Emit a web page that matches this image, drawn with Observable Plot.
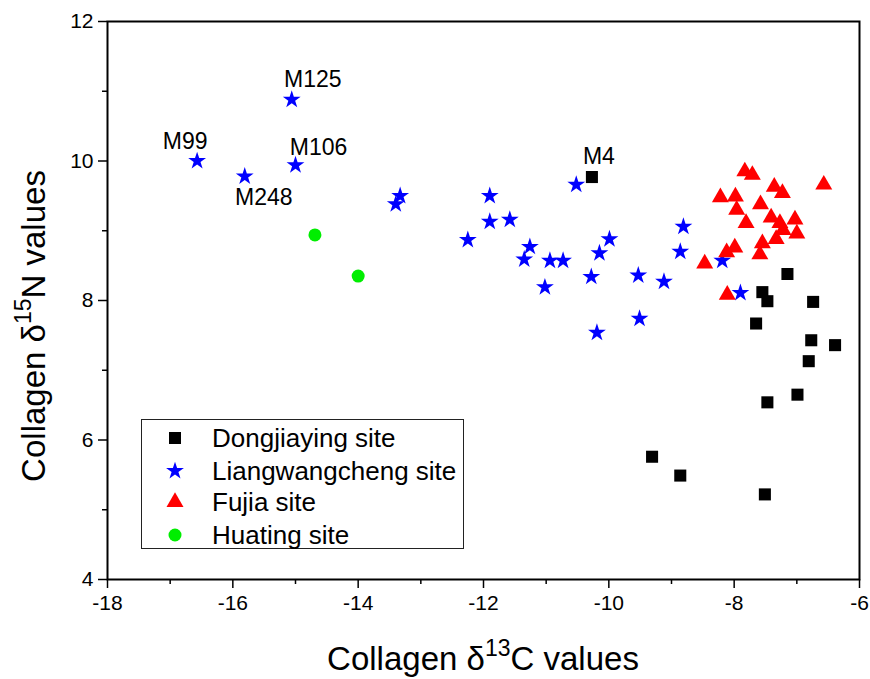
<!DOCTYPE html>
<html><head><meta charset="utf-8">
<script src="https://cdn.jsdelivr.net/npm/d3@7"></script>
<script src="https://cdn.jsdelivr.net/npm/@observablehq/plot@0.6"></script>
<style>
body{margin:0;background:#fff;font-family:"Liberation Sans",Arial,sans-serif;}
#wrap{position:relative;width:870px;height:679px;}
#legend{position:absolute;left:141px;top:419px;width:321px;height:128px;border:1px solid #222;background:#fff;}
.row{position:absolute;left:0;height:30px;display:flex;align-items:center;}
.row svg{position:absolute;left:20px;}
.row span{position:absolute;left:70px;font-size:26px;white-space:nowrap;line-height:30px;}
</style></head><body>
<div id="wrap"></div>
<script>
// ---- data ----
const dongX = [-10.27, -7.15, -7.55, -7.47, -6.74, -7.65, -6.77, -6.39, -6.81, -6.99, -7.47, -9.31, -8.86, -7.51];
const dongY = [9.77, 8.38, 8.12, 7.99, 7.98, 7.67, 7.43, 7.36, 7.13, 6.65, 6.54, 5.76, 5.49, 5.22];

const liangX = [-15.06, -16.57, -15.81, -15.00, -13.33, -13.40, -12.25, -11.90, -11.90, -11.58, -11.26, -11.35, -10.94, -10.73, -11.02, -10.52, -10.28, -10.15, -9.99, -10.19, -9.53, -9.51, -9.12, -8.86, -8.81, -8.19, -7.90];
const liangY = [10.88, 10.00, 9.78, 9.94, 9.50, 9.38, 8.87, 9.50, 9.13, 9.16, 8.77, 8.59, 8.57, 8.57, 8.19, 9.66, 8.34, 8.68, 8.88, 7.54, 8.36, 7.74, 8.27, 8.70, 9.06, 8.57, 8.11];

const fujiaX = [-7.83, -7.71, -6.57, -7.36, -7.23, -8.22, -7.98, -7.58, -7.96, -7.41, -7.03, -7.27, -7.81, -7.22, -7.00, -7.33, -7.55, -7.99, -8.12, -7.59, -8.47, -8.11];
const fujiaY = [9.85, 9.80, 9.66, 9.63, 9.54, 9.48, 9.49, 9.38, 9.30, 9.19, 9.16, 9.11, 9.11, 9.01, 8.96, 8.88, 8.82, 8.76, 8.69, 8.66, 8.53, 8.08];

const huatingX = [-14.69, -14.00];
const huatingY = [8.94, 8.35];

const seriesNames = ["Dongjiaying site", "Liangwangcheng site", "Fujia site", "Huating site"];

// labelled samples: [name, series index, point index]
const labelNames = ["M125", "M99", "M248", "M106", "M4"];
const labelSeries = [1, 1, 1, 1, 0];
const labelIndex = [0, 1, 2, 3, 0];

const xTicks = [-18, -16, -14, -12, -10, -8, -6];
const xMinor = [-17, -15, -13, -11, -9, -7];
const yTicks = [4, 6, 8, 10, 12];
const yMinor = [5, 7, 9, 11];

// ---- build ----
const seriesX = [dongX, liangX, fujiaX, huatingX];
const seriesY = [dongY, liangY, fujiaY, huatingY];
const styles = [
  {symbol: "square", fill: "#000000", r: 6.8},
  {symbol: "star", fill: "#0000ff", r: 5.6},
  {symbol: "triangle", fill: "#ff0000", r: 6.3},
  {symbol: "circle", fill: "#00ee00", r: 6.5}
];
const labelOffsets = {M125: [21, -20], M99: [-12, -19], M248: [19, 21], M106: [23, -18], M4: [7, -20]};

const tables = seriesNames.map((name, s) =>
  seriesX[s].map((x, i) => ({x, y: seriesY[s][i], site: name})));

const dotMarks = tables.map((t, s) => Plot.dot(t, {
  x: "x", y: "y", symbol: () => styles[s].symbol, fill: styles[s].fill, stroke: "none", r: styles[s].r
}));

const labelMarks = labelNames.map((n, k) => {
  const s = labelSeries[k], i = labelIndex[k];
  return Plot.text([{x: seriesX[s][i], y: seriesY[s][i], t: n}], {
    x: "x", y: "y", text: "t", dx: labelOffsets[n][0], dy: labelOffsets[n][1],
    fontSize: 23, fill: "#000", textAnchor: "middle", lineAnchor: "middle"
  });
});

const chart = Plot.plot({
  width: 870, height: 679,
  marginLeft: 107, marginRight: 11, marginTop: 21, marginBottom: 100,
  style: {fontFamily: "'Liberation Sans', Arial, sans-serif", fontSize: "21px", color: "#000", background: "#fff"},
  x: {domain: [-18, -6]},
  y: {domain: [4, 12]},
  symbol: {type: "identity"},
  marks: [
    Plot.axisX({ticks: xMinor, tickSize: 5, tickFormat: () => "", label: null, strokeWidth: 1.5}),
    Plot.axisX({ticks: xTicks, tickSize: 9, tickPadding: 7, tickFormat: d => String(d), label: null, strokeWidth: 1.5}),
    Plot.axisY({ticks: yMinor, tickSize: 5, tickFormat: () => "", label: null, strokeWidth: 1.5}),
    Plot.axisY({ticks: yTicks, tickSize: 9, tickPadding: 5, tickFormat: d => String(d), label: null, strokeWidth: 1.5}),
    ...dotMarks,
    ...labelMarks,
    Plot.frame({stroke: "#000", strokeWidth: 2})
  ]
});

const wrap = document.getElementById("wrap");
wrap.appendChild(chart);

const svg = d3.select(chart);
// enlarge tick labels (numeric texts only)
svg.selectAll("text")
  .filter(function () { return /^[-\u2212]?\d+$/.test(this.textContent.trim()); })
  .attr("font-size", 21).style("font-size", "21px");

// axis titles with superscripts
const xt = svg.append("text").attr("x", 483).attr("y", 670).attr("text-anchor", "middle")
  .style("font-size", "33px").style("fill", "#000");
xt.append("tspan").text("Collagen δ");
xt.append("tspan").attr("dy", -14).style("font-size", "23px").text("13");
xt.append("tspan").attr("dy", 14).text("C values");

const yt = svg.append("text").attr("transform", "translate(45,326) rotate(-90)").attr("text-anchor", "middle")
  .style("font-size", "33px").style("fill", "#000");
yt.append("tspan").text("Collagen δ");
yt.append("tspan").attr("dy", -14).style("font-size", "23px").text("15");
yt.append("tspan").attr("dy", 14).text("N values");

// legend
const legend = document.createElement("div");
legend.id = "legend";
const rowTops = [3, 36, 67, 100];
seriesNames.forEach((name, s) => {
  const row = document.createElement("div");
  row.className = "row";
  row.style.top = rowTops[s] + "px";
  const sym = {square: d3.symbolSquare, star: d3.symbolStar, triangle: d3.symbolTriangle, circle: d3.symbolCircle}[styles[s].symbol];
  const size = Math.PI * styles[s].r * styles[s].r;
  const ns = "http://www.w3.org/2000/svg";
  const sv = document.createElementNS(ns, "svg");
  sv.setAttribute("width", 26); sv.setAttribute("height", 30);
  const p = document.createElementNS(ns, "path");
  p.setAttribute("d", d3.symbol(sym, size)());
  p.setAttribute("transform", "translate(13,15)");
  p.setAttribute("fill", styles[s].fill);
  sv.appendChild(p);
  row.appendChild(sv);
  const sp = document.createElement("span");
  sp.textContent = name;
  row.appendChild(sp);
  legend.appendChild(row);
});
wrap.appendChild(legend);
</script>
</body></html>
